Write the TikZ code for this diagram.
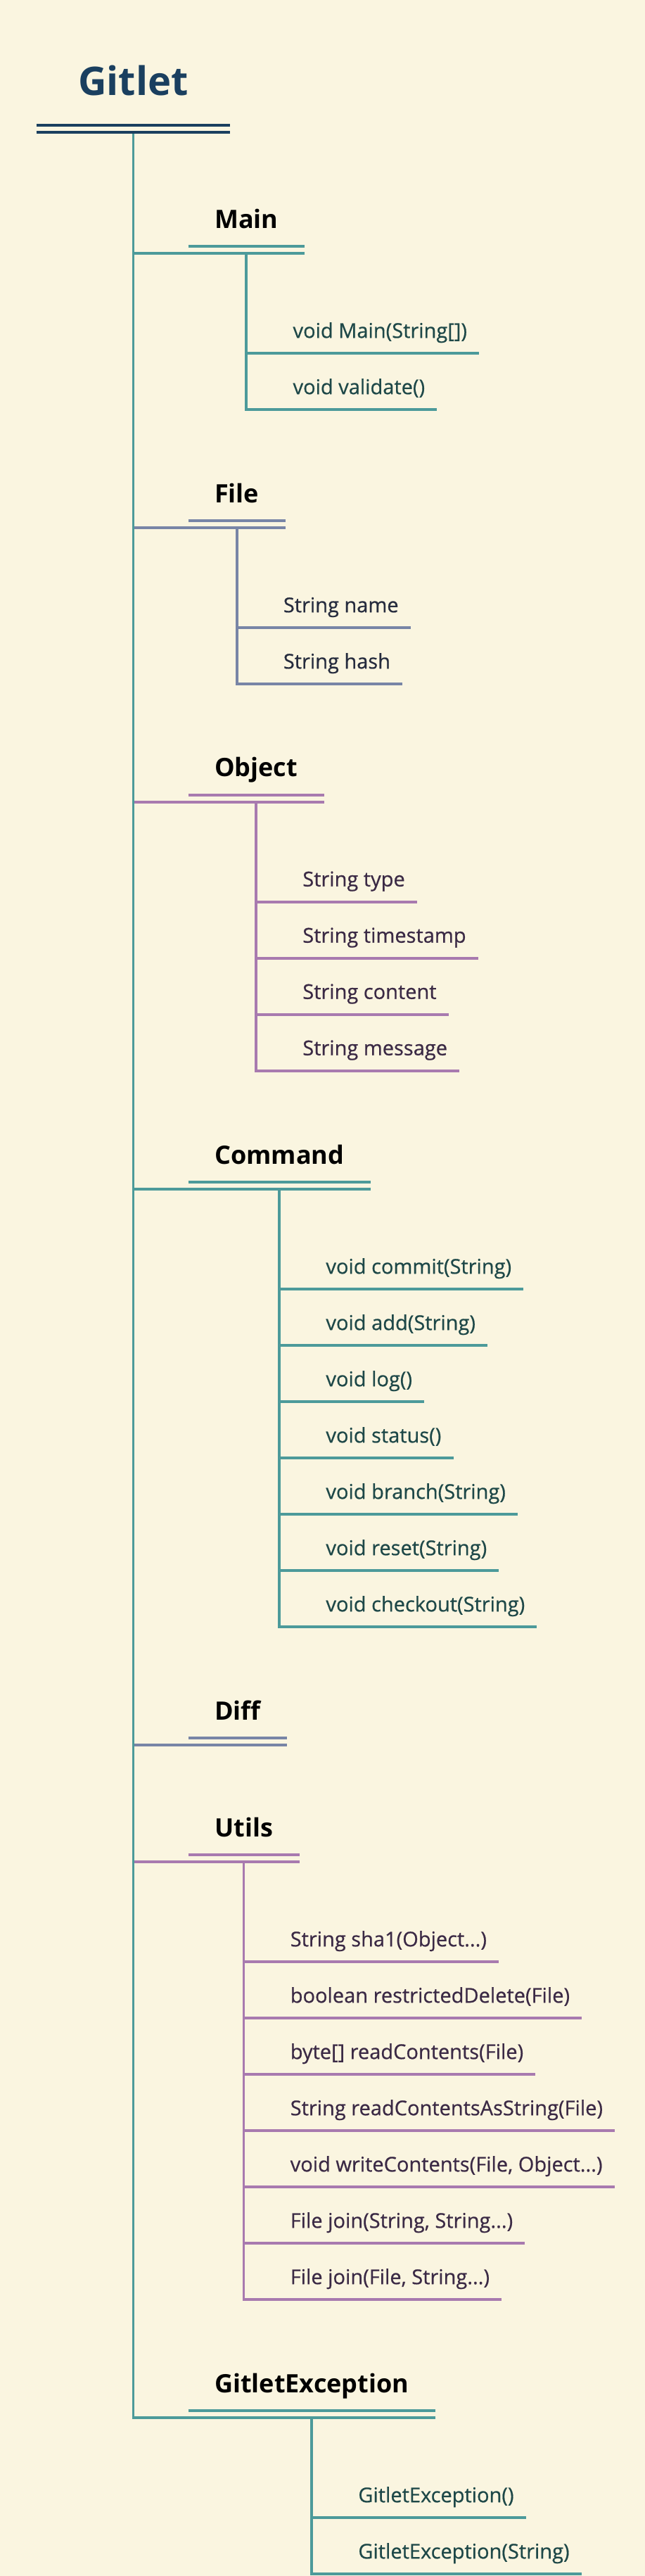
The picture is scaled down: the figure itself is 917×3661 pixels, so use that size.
\documentclass[tikz,border=0pt]{standalone}
\usepackage{fontspec}
\setmainfont{Open Sans}
\newfontfamily\itemfamily[FakeBold=0.6]{Open Sans}
\usetikzlibrary{positioning}

\definecolor{paper}{HTML}{FAF5E0}
\definecolor{navy}{HTML}{1A3F5F}
\definecolor{tealline}{HTML}{4C9A9A}
\definecolor{tealtext}{HTML}{1E4848}
\definecolor{slateline}{HTML}{7885A6}
\definecolor{slatetext}{HTML}{262C3E}
\definecolor{plumline}{HTML}{A87AAF}
\definecolor{plumtext}{HTML}{3B2A45}

\begin{document}
\begin{tikzpicture}[
    x=1pt, y=-1pt,
    rootbox/.style={anchor=base west, inner xsep=59.5pt, inner ysep=0pt, text depth=52pt, text=navy, font=\fontsize{56}{60}\selectfont\bfseries},
    hdr/.style={anchor=base west, inner xsep=37.5pt, inner ysep=0pt, text depth=36pt, font=\fontsize{36}{40}\selectfont\bfseries},
    item/.style={inner sep=0pt, font=\itemfamily\fontsize{29}{34}\selectfont},
    firstitem/.style={item, below right=120pt and 66pt of #1.south, anchor=base west},
    nextitem/.style={item, below=80pt of #1.base west, anchor=base west},
    bar/.style={line width=3.8pt},
    navybar/.style={bar, draw=navy},
    tealbar/.style={bar, draw=tealline},
    slatebar/.style={bar, draw=slateline},
    plumbar/.style={bar, draw=plumline}
]
\fill[paper] (0,0) rectangle (917,3661);
\useasboundingbox (0,0) rectangle (917,3661);

% root
\node[rootbox] (gitlet) at (51.5,136) {Gitlet};

% Main
\node[hdr] (main) at (267.5,324) {Main};
\node[firstitem=main, text=tealtext] (m1) {void Main(String[])};
\node[nextitem=m1, text=tealtext] (m2) {void validate()};
\draw[tealbar] ([yshift=10pt]main.south west) -- ([yshift=10pt]main.south east);
\draw[tealbar] (gitlet.south |- main.south) -- (main.south east);
\draw[tealbar] (main.south) |- ([xshift=17pt,yshift=-22pt]m1.base east);
\draw[tealbar] (main.south) |- ([xshift=17pt,yshift=-22pt]m2.base east);

% File
\node[hdr] (file) at (267.5,714) {File};
\node[firstitem=file, text=slatetext] (f1) {String name};
\node[nextitem=f1, text=slatetext] (f2) {String hash};
\draw[slatebar] ([yshift=10pt]file.south west) -- ([yshift=10pt]file.south east);
\draw[slatebar] (gitlet.south |- file.south) -- (file.south east);
\draw[slatebar] (file.south) |- ([xshift=17pt,yshift=-22pt]f1.base east);
\draw[slatebar] (file.south) |- ([xshift=17pt,yshift=-22pt]f2.base east);

% Object
\node[hdr] (object) at (267.5,1103.5) {Object};
\node[firstitem=object, text=plumtext] (o1) {String type};
\node[nextitem=o1, text=plumtext] (o2) {String timestamp};
\node[nextitem=o2, text=plumtext] (o3) {String content};
\node[nextitem=o3, text=plumtext] (o4) {String message};
\draw[plumbar] ([yshift=10pt]object.south west) -- ([yshift=10pt]object.south east);
\draw[plumbar] (gitlet.south |- object.south) -- (object.south east);
\draw[plumbar] (object.south) |- ([xshift=17pt,yshift=-22pt]o1.base east);
\draw[plumbar] (object.south) |- ([xshift=17pt,yshift=-22pt]o2.base east);
\draw[plumbar] (object.south) |- ([xshift=17pt,yshift=-22pt]o3.base east);
\draw[plumbar] (object.south) |- ([xshift=17pt,yshift=-22pt]o4.base east);

% Command
\node[hdr] (command) at (267.5,1654) {Command};
\node[firstitem=command, text=tealtext] (c1) {void commit(String)};
\node[nextitem=c1, text=tealtext] (c2) {void add(String)};
\node[nextitem=c2, text=tealtext] (c3) {void log()};
\node[nextitem=c3, text=tealtext] (c4) {void status()};
\node[nextitem=c4, text=tealtext] (c5) {void branch(String)};
\node[nextitem=c5, text=tealtext] (c6) {void reset(String)};
\node[nextitem=c6, text=tealtext] (c7) {void checkout(String)};
\draw[tealbar] ([yshift=10pt]command.south west) -- ([yshift=10pt]command.south east);
\draw[tealbar] (gitlet.south |- command.south) -- (command.south east);
\draw[tealbar] (command.south) |- ([xshift=17pt,yshift=-22pt]c1.base east);
\draw[tealbar] (command.south) |- ([xshift=17pt,yshift=-22pt]c2.base east);
\draw[tealbar] (command.south) |- ([xshift=17pt,yshift=-22pt]c3.base east);
\draw[tealbar] (command.south) |- ([xshift=17pt,yshift=-22pt]c4.base east);
\draw[tealbar] (command.south) |- ([xshift=17pt,yshift=-22pt]c5.base east);
\draw[tealbar] (command.south) |- ([xshift=17pt,yshift=-22pt]c6.base east);
\draw[tealbar] (command.south) |- ([xshift=17pt,yshift=-22pt]c7.base east);

% Diff
\node[hdr] (diff) at (267.5,2444) {Diff};
\draw[slatebar] ([yshift=10pt]diff.south west) -- ([yshift=10pt]diff.south east);
\draw[slatebar] (gitlet.south |- diff.south) -- (diff.south east);

% Utils
\node[hdr] (utils) at (267.5,2610) {Utils};
\node[firstitem=utils, text=plumtext] (u1) {String sha1(Object...)};
\node[nextitem=u1, text=plumtext] (u2) {boolean restrictedDelete(File)};
\node[nextitem=u2, text=plumtext] (u3) {byte[] readContents(File)};
\node[nextitem=u3, text=plumtext] (u4) {String readContentsAsString(File)};
\node[nextitem=u4, text=plumtext] (u5) {void writeContents(File, Object...)};
\node[nextitem=u5, text=plumtext] (u6) {File join(String, String...)};
\node[nextitem=u6, text=plumtext] (u7) {File join(File, String...)};
\draw[plumbar] ([yshift=10pt]utils.south west) -- ([yshift=10pt]utils.south east);
\draw[plumbar] (gitlet.south |- utils.south) -- (utils.south east);
\draw[plumbar] (utils.south) |- ([xshift=17pt,yshift=-22pt]u1.base east);
\draw[plumbar] (utils.south) |- ([xshift=17pt,yshift=-22pt]u2.base east);
\draw[plumbar] (utils.south) |- ([xshift=17pt,yshift=-22pt]u3.base east);
\draw[plumbar] (utils.south) |- ([xshift=17pt,yshift=-22pt]u4.base east);
\draw[plumbar] (utils.south) |- ([xshift=17pt,yshift=-22pt]u5.base east);
\draw[plumbar] (utils.south) |- ([xshift=17pt,yshift=-22pt]u6.base east);
\draw[plumbar] (utils.south) |- ([xshift=17pt,yshift=-22pt]u7.base east);

% GitletException
\node[hdr] (gex) at (267.5,3400) {GitletException};
\node[firstitem=gex, text=tealtext] (g1) {GitletException()};
\node[nextitem=g1, text=tealtext] (g2) {GitletException(String)};
\draw[tealbar] ([yshift=10pt]gex.south west) -- ([yshift=10pt]gex.south east);
\draw[tealbar] (gex.south) |- ([xshift=17pt,yshift=-22pt]g1.base east);
\draw[tealbar] (gex.south) |- ([xshift=17pt,yshift=-22pt]g2.base east);

% trunk
\draw[tealbar] (gitlet.south) |- (gex.south east);
\draw[navybar] ([yshift=10.5pt]gitlet.south west) -- ([yshift=10.5pt]gitlet.south east);
\draw[navybar] (gitlet.south west) -- (gitlet.south east);
\end{tikzpicture}
\end{document}
